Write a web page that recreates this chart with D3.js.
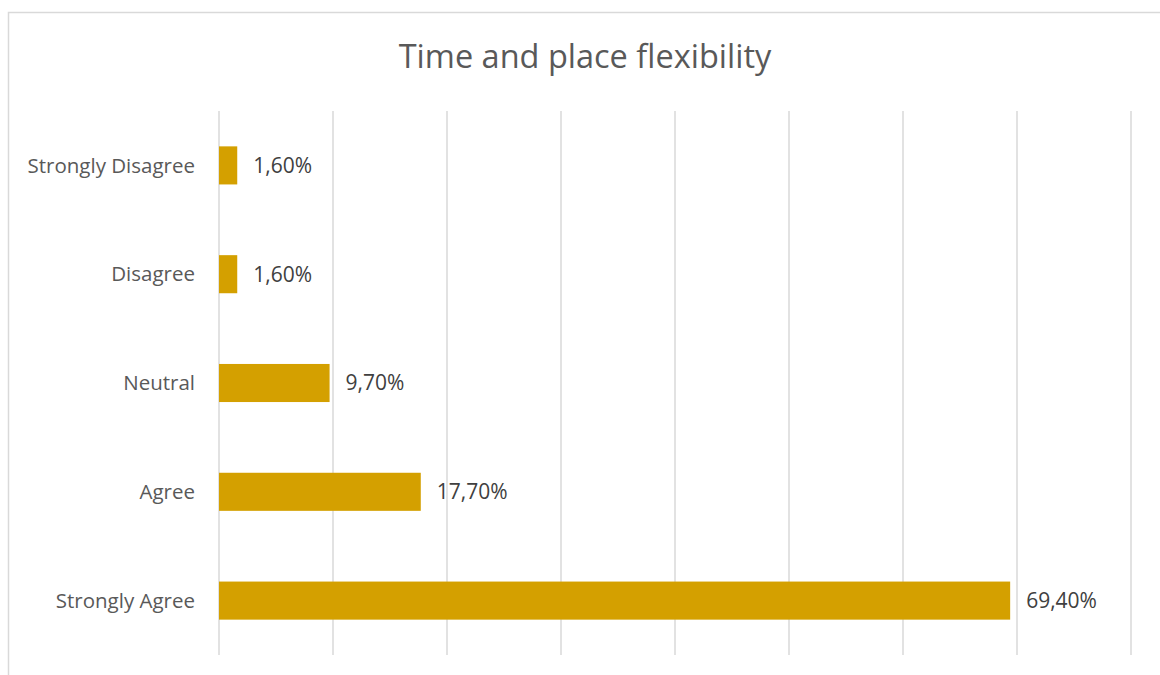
<!DOCTYPE html>
<html>
<head>
<meta charset="utf-8">
<script src="https://cdn.jsdelivr.net/npm/d3@7"></script>
<style>
  html, body { margin: 0; padding: 0; background: #fff; }
  svg { display: block; }
</style>
</head>
<body>
<svg id="chart" width="1160" height="675"></svg>
<script>
const categories = ["Strongly Disagree", "Disagree", "Neutral", "Agree", "Strongly Agree"];
const values = [1.6, 1.6, 9.7, 17.7, 69.4];
const xTicks = [0, 10, 20, 30, 40, 50, 60, 70, 80];
const title = "Time and place flexibility";

const svg = d3.select("#chart");
const font = "'Open Sans', sans-serif";

// outer chart frame
svg.append("rect")
  .attr("x", 8.5).attr("y", 12.5)
  .attr("width", 1160).attr("height", 700)
  .attr("fill", "#fff").attr("stroke", "#d9d9d9").attr("stroke-width", 1.5);

const plot = { left: 219, right: 1131, top: 111, bottom: 655 };

const x = d3.scaleLinear().domain([0, 80]).range([plot.left, plot.right]);
const y = d3.scaleBand().domain(categories).range([plot.top, plot.bottom]).paddingInner(0.65).paddingOuter(0.325);

// vertical gridlines
svg.append("g")
  .selectAll("line")
  .data(xTicks)
  .join("line")
  .attr("x1", d => x(d)).attr("x2", d => x(d))
  .attr("y1", plot.top).attr("y2", plot.bottom)
  .attr("stroke", "#d9d9d9").attr("stroke-width", 1.5);

// bars
svg.append("g")
  .selectAll("rect")
  .data(categories)
  .join("rect")
  .attr("x", x(0))
  .attr("y", d => y(d))
  .attr("width", (d, i) => x(values[i]) - x(0))
  .attr("height", y.bandwidth())
  .attr("fill", "#d4a000");

// category labels
svg.append("g")
  .selectAll("text")
  .data(categories)
  .join("text")
  .attr("x", plot.left - 24)
  .attr("y", d => y(d) + y.bandwidth() / 2)
  .attr("dy", "0.35em")
  .attr("text-anchor", "end")
  .attr("font-family", font)
  .attr("font-size", 20.5)
  .attr("fill", "#595959")
  .text(d => d);

// value labels
const fmt = v => v.toFixed(2).replace(".", ",") + "%";
svg.append("g")
  .selectAll("text")
  .data(categories)
  .join("text")
  .attr("x", (d, i) => x(values[i]) + 16)
  .attr("y", d => y(d) + y.bandwidth() / 2)
  .attr("dy", "0.35em")
  .attr("font-family", font)
  .attr("font-size", 21)
  .attr("fill", "#404040")
  .text((d, i) => fmt(values[i]));

// title
svg.append("text")
  .attr("x", 585).attr("y", 68)
  .attr("text-anchor", "middle")
  .attr("font-family", font)
  .attr("font-size", 32.5)
  .attr("fill", "#595959")
  .text(title);
</script>
</body>
</html>
